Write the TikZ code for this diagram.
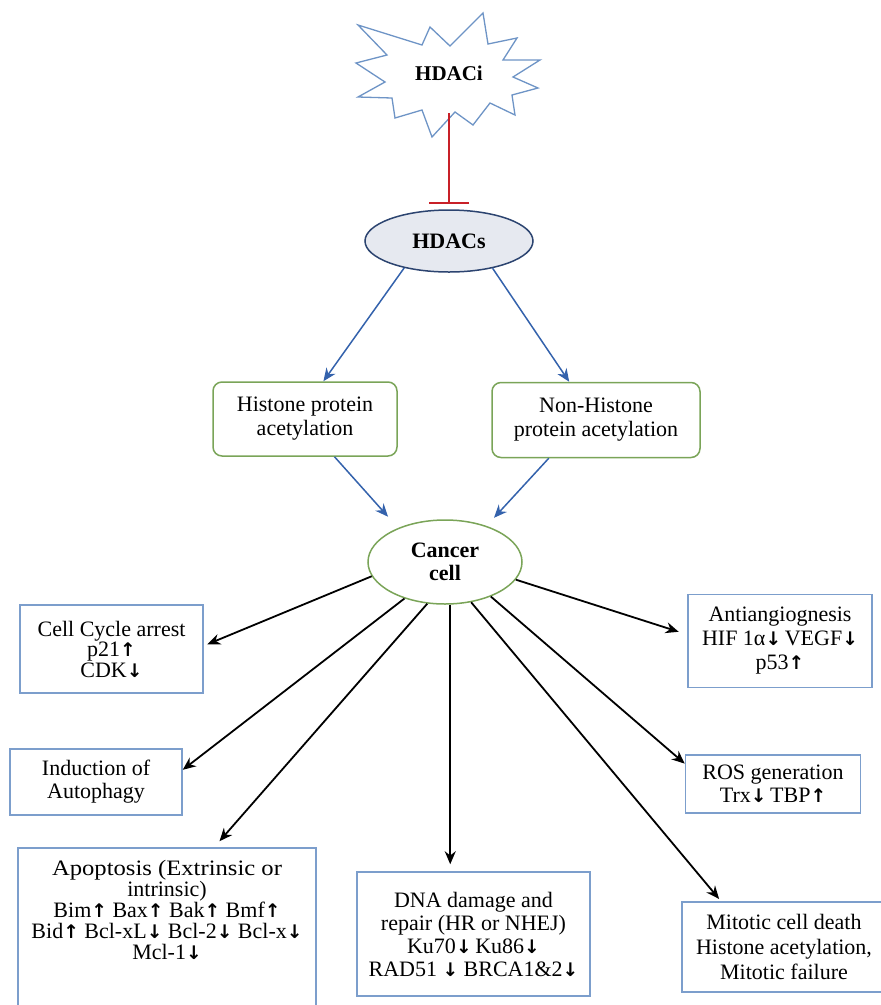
\documentclass[tikz,border=0pt]{standalone}
\usepackage{graphicx}
\usepackage{fontspec}
\setmainfont{Liberation Serif}
\newfontfamily\arrowfont{DejaVu Sans}
\usetikzlibrary{arrows.meta,shapes.geometric}
\definecolor{boxblue}{RGB}{124,158,204}
\definecolor{leafgreen}{RGB}{122,164,88}
\definecolor{linkblue}{RGB}{52,98,172}
\definecolor{inhibred}{RGB}{200,32,40}
\definecolor{starblue}{RGB}{110,148,198}
\definecolor{hdacfill}{RGB}{230,233,240}
\definecolor{hdacline}{RGB}{44,68,112}
\newcommand\uparr{\scalebox{0.85}{\arrowfont\bfseries ↑}}
\newcommand\dnarr{\scalebox{0.85}{\arrowfont\bfseries ↓}}
\newcommand\boxfont[1]{\fontsize{22}{#1}\selectfont\lineskip=0pt\lineskiplimit=0pt}

\begin{document}
\begin{tikzpicture}[
  x=1pt, y=-1pt,
  box/.style={draw=boxblue, line width=1.5pt, align=center, inner sep=2pt,
              font=\boxfont{23}},
  greenbox/.style={draw=leafgreen, line width=1.5pt, rounded corners=9pt,
              align=center, font=\boxfont{24}},
  bubble/.style={ellipse, line width=1.5pt, align=center, inner sep=0pt,
              font=\boxfont{23}\bfseries},
  arrow/.style={-{Stealth[length=13pt,width=11pt]}, line width=1.8pt},
  bluearrow/.style={arrow, draw=linkblue, line width=1.5pt},
  inhibit/.style={-{Bar[width=40pt]}, draw=inhibred, line width=2.2pt}
]
  \useasboundingbox (0,0) rectangle (881,1005);

  \draw[draw=starblue, line width=1.3pt, fill=white]
    (358,25) -- (422,45) -- (430,27) -- (450,46) -- (483,13) -- (488,44)
    -- (517,38) -- (503,60) -- (540,60) -- (513,77) -- (538,88) -- (512,95)
    -- (515,115) -- (490,103) -- (473,125) -- (455,112) -- (432,137)
    -- (422,110) -- (395,118) -- (392,98) -- (358,97) -- (385,82)
    -- (356,63) -- (387,55) -- cycle;
  \node[font=\fontsize{21}{24}\selectfont\bfseries] (hdaci) at (449,73) {HDACi};

  \node[bubble, draw=hdacline, fill=hdacfill, minimum width=168pt,
        minimum height=62pt] (hdacs) at (449,241) {HDACs};
  \node[greenbox, minimum width=184pt, minimum height=74pt] (histone)
    at (305,419) {Histone protein\\acetylation};
  \node[greenbox, minimum width=208pt, minimum height=75pt] (nonhistone)
    at (596,420) {Non-Histone\\protein acetylation};
  \node[bubble, draw=leafgreen, minimum width=154pt, minimum height=84pt]
    (cancer) at (445,562) {Cancer\\cell};

  \node[box, minimum width=183pt, minimum height=88pt, font=\boxfont{20.5}]
    (cycle) at (111.5,649) {Cell Cycle arrest\\p21\uparr\\CDK\dnarr};
  \node[box, minimum width=172pt, minimum height=66pt] (autophagy)
    at (96,782) {Induction of\\Autophagy};
  \node[box, minimum width=298pt, minimum height=162pt, font=\boxfont{21}]
    (apoptosis) at (167,929)
    {\scalebox{1.12}[1]{Apoptosis (Extrinsic or}\\intrinsic)\\
     Bim\uparr{} Bax\uparr{} Bak\uparr{} Bmf\uparr\\
     Bid\uparr{} Bcl-xL\dnarr{} Bcl-2\dnarr{} Bcl-x\dnarr\\
     Mcl-1\dnarr\rule[-38pt]{0pt}{38pt}};
  \node[box, minimum width=233pt, minimum height=124pt] (dna) at (473.5,934)
    {DNA damage and\\repair (HR or NHEJ)\\Ku70\dnarr\,Ku86\dnarr\\
     RAD51 \dnarr{} BRCA1\&2\dnarr};
  \node[box, minimum width=204pt, minimum height=90pt, font=\boxfont{25}]
    (mitotic) at (784,947)
    {Mitotic cell death\\Histone acetylation,\\Mitotic failure};
  \node[box, minimum width=184pt, minimum height=93pt, font=\boxfont{24}]
    (antiangio) at (780,641)
    {Antiangiognesis\\HIF 1α\dnarr\,VEGF\dnarr\\p53\uparr};
  \node[box, minimum width=175pt, minimum height=58pt] (ros) at (773,784)
    {ROS generation\\Trx\dnarr\,TBP\uparr};

  \draw[inhibit, shorten <=40pt, shorten >=5pt] (hdaci.center)
    -- (hdaci.center |- hdacs.north);
  \draw[bluearrow] (hdacs.211) -- (histone.64);
  \draw[bluearrow] (hdacs.328) -- (nonhistone.125);
  \draw[bluearrow, shorten >=15pt] (histone.308) -- (cancer.144);
  \draw[bluearrow, shorten >=11pt] (nonhistone.219) -- (cancer.41);

  \draw[arrow, shorten >=4pt] (cancer.191) -- (cycle.2);
  \draw[arrow] (cancer.222) -- (autophagy.8);
  \draw[arrow, shorten >=8pt] (cancer.247) -- (apoptosis.60);
  \draw[arrow, shorten >=7pt] (cancer.277) -- (cancer.277 |- dna.north);
  \draw[arrow, shorten >=3pt] (cancer.303) -- (mitotic.144);
  \draw[arrow] (cancer.323) -- (ros.167);
  \draw[arrow, shorten >=9pt] (cancer.346) -- (antiangio.176);
\end{tikzpicture}
\end{document}
